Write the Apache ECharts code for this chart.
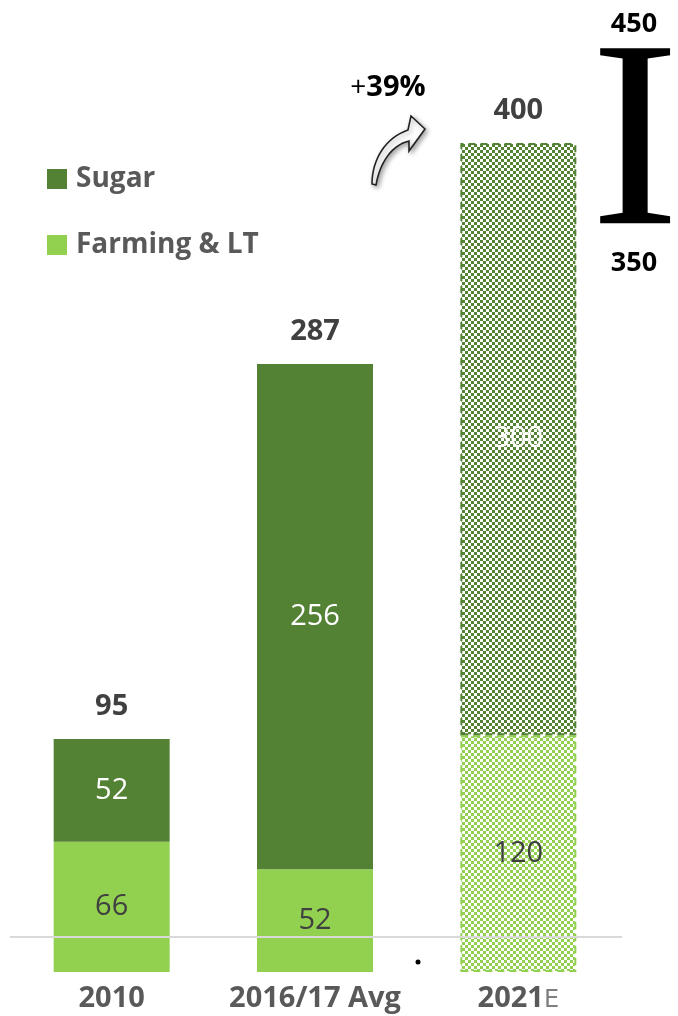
<!DOCTYPE html>
<html><head><meta charset="utf-8">
<script src="https://cdn.jsdelivr.net/npm/echarts@6/dist/echarts.min.js"></script>
<style>html,body{margin:0;padding:0;background:#fff}#c{width:678px;height:1016px}</style>
</head><body><div id="c"></div>
<script>
const categories = ['2010', '2016/17 Avg', '2021E'];
const farming = [66, 52, 120];
const sugar = [52, 256, 300];
const totals = [95, 287, 400];
const rangeLabels = ['450', '350'];
const growthLabel = '39%';

const SUGAR = '#548235', FARM = '#92D050';
const FONT = 'Open Sans';
function checker(c1, c2) {
  const cv = document.createElement('canvas');
  cv.width = 6; cv.height = 6;
  const g = cv.getContext('2d');
  g.fillStyle = c2; g.fillRect(0, 0, 6, 6);
  g.fillStyle = c1; g.fillRect(0, 0, 3, 3); g.fillRect(3, 3, 3, 3);
  return { image: cv, repeat: 'repeat' };
}
const estIdx = 2;
function build(vals, color, lightColor) {
  return vals.map((v, i) => i === estIdx ? {
    value: v,
    itemStyle: { color: checker(color, lightColor), borderColor: color, borderWidth: 2, borderType: [7, 5] }
  } : v);
}
// decorative curved arrow outline
function bez(p0, p1, p2, p3, n) {
  const out = [];
  for (let i = 0; i <= n; i++) {
    const t = i / n, u = 1 - t;
    out.push([u*u*u*p0[0] + 3*u*u*t*p1[0] + 3*u*t*t*p2[0] + t*t*t*p3[0],
              u*u*u*p0[1] + 3*u*u*t*p1[1] + 3*u*t*t*p2[1] + t*t*t*p3[1]]);
  }
  return out;
}
const arrowPts = [].concat(
  bez([372,184],[372,160],[385,138],[408,130],16),
  [[411,116],[425,129],[409,151],[409,141]],
  bez([409,141],[392,145],[380,162],[376,185],16)
);

const chart = echarts.init(document.getElementById('c'));
chart.setOption({
  animation: false,
  backgroundColor: '#fff',
  grid: { left: 10, right: 58, top: 72, bottom: 44 },
  legend: {
    data: ['Sugar', 'Farming & LT'], orient: 'vertical', left: 42, top: 160,
    itemWidth: 20, itemHeight: 20, itemGap: 38, icon: 'rect',
    textStyle: { fontFamily: FONT, fontWeight: 'bold', fontSize: 28, color: '#595959', padding: [0, 0, 0, 4] }
  },
  xAxis: {
    type: 'category', data: categories,
    axisLine: { show: false }, axisTick: { show: false },
    axisLabel: {
      interval: 0, margin: 12, fontFamily: FONT, fontWeight: 'bold', fontSize: 29, color: '#595959',
      formatter: v => v.endsWith('E') ? v.slice(0, -1) + '{e|E}' : v,
      rich: { e: { fontFamily: 'DejaVu Sans', fontSize: 24, color: '#7f7f7f', fontWeight: 'normal', padding: [5, 0, 0, 0] } }
    }
  },
  yAxis: { type: 'value', min: 0, max: 456, show: false, splitLine: { show: false } },
  series: [
    {
      name: 'Farming & LT', type: 'bar', stack: 'a', barWidth: 116,
      itemStyle: { color: FARM },
      label: { show: true, position: 'inside', fontFamily: FONT, fontSize: 29, color: '#404040' },
      data: build(farming, FARM, '#ffffff')
    },
    {
      name: 'Sugar', type: 'bar', stack: 'a', barWidth: 116,
      itemStyle: { color: SUGAR },
      label: { show: true, position: 'inside', fontFamily: FONT, fontSize: 29, color: '#ffffff' },
      data: build(sugar, SUGAR, '#ffffff')
    },
    {
      name: 'Total', type: 'bar', stack: 'a', barWidth: 116,
      data: totals.map(() => 0),
      label: { show: true, position: 'top', distance: 18, fontFamily: FONT, fontWeight: 'bold', fontSize: 29, color: '#404040',
        formatter: p => String(totals[p.dataIndex]) }
    }
  ],
  graphic: [
    { type: 'line', z: 100, shape: { x1: 10, y1: 937, x2: 622, y2: 937 }, style: { stroke: '#d9d9d9', lineWidth: 2 } },
    { type: 'circle', z: 100, shape: { cx: 418, cy: 962, r: 2.5 }, style: { fill: '#000' } },
    { type: 'text', z: 100, x: 388, y: 88, style: {
        text: '+{b|' + growthLabel + '}', align: 'center', verticalAlign: 'middle',
        fontFamily: FONT, fontSize: 28, fill: '#000',
        rich: { b: { fontFamily: FONT, fontWeight: 'bold', fontSize: 29, fill: '#000' } } } },
    { type: 'polygon', z: 100, shape: { points: arrowPts },
      style: { fill: '#fff', stroke: '#222', lineWidth: 1.6, shadowBlur: 5, shadowColor: 'rgba(0,0,0,0.35)', shadowOffsetX: 2, shadowOffsetY: 2 } },
    { type: 'text', z: 100, x: 634, y: 24, style: { text: rangeLabels[0], align: 'center', verticalAlign: 'middle', fontFamily: FONT, fontWeight: 'bold', fontSize: 27, fill: '#000' } },
    { type: 'text', z: 100, x: 634, y: 263, style: { text: rangeLabels[1], align: 'center', verticalAlign: 'middle', fontFamily: FONT, fontWeight: 'bold', fontSize: 27, fill: '#000' } },
    { type: 'text', z: 100, x: 635, y: 153, style: { text: 'I', align: 'center', verticalAlign: 'middle', fontFamily: 'Liberation Serif', fontSize: 267, fill: '#000' } }
  ]
});
</script></body></html>
